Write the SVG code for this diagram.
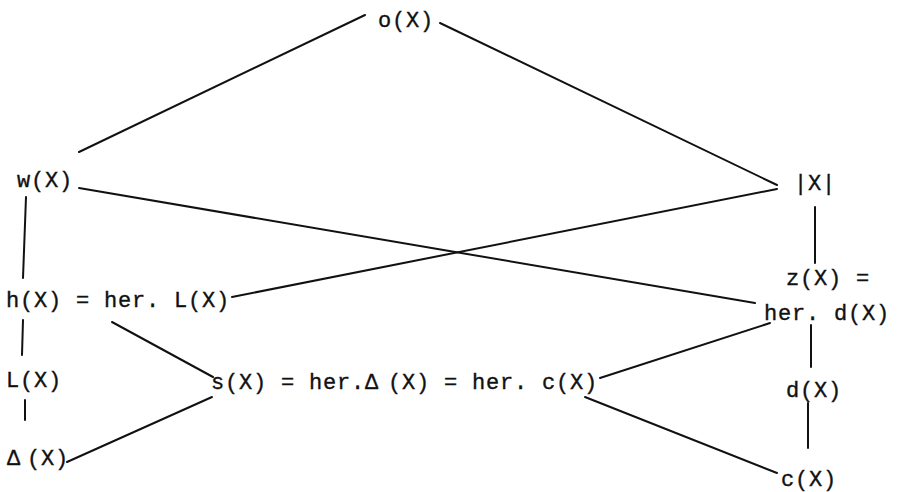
<svg xmlns="http://www.w3.org/2000/svg" width="900" height="492" viewBox="0 0 900 492">
<style>
text{font-family:"Liberation Mono","Courier New",monospace;font-size:22px;letter-spacing:0.8px;fill:#111;stroke:#111;stroke-width:0.35}
.e line{stroke:#111;stroke-width:2;stroke-linecap:round}
</style>
<rect width="900" height="492" fill="#fff"/>
<g id="edges" class="e">
<line x1="365" y1="15" x2="79" y2="152"/>
<line x1="440" y1="23" x2="777" y2="185"/>
<line x1="79" y1="188" x2="755" y2="303"/>
<line x1="777" y1="189" x2="232" y2="297"/>
<line x1="26" y1="197" x2="23" y2="278"/>
<line x1="23" y1="320" x2="22" y2="355"/>
<line x1="25" y1="400" x2="25" y2="420"/>
<line x1="112" y1="322" x2="213" y2="377"/>
<line x1="67" y1="462" x2="212" y2="397"/>
<line x1="600" y1="378" x2="770" y2="323"/>
<line x1="585" y1="397" x2="777" y2="473"/>
<line x1="815" y1="207" x2="815" y2="263"/>
<line x1="811" y1="325" x2="811" y2="367"/>
<line x1="808" y1="403" x2="808" y2="448"/>
</g>
<g id="o"><text x="378" y="27">o(X)</text></g>
<g id="w"><text x="17" y="187">w(X)</text></g>
<g id="abs"><text x="794" y="190">|X|</text></g>
<g id="h"><text x="6" y="307">h(X) = her. L(X)</text></g>
<g id="z"><text x="786" y="285">z(X) =</text><text x="764" y="320">her. d(X)</text></g>
<g id="L"><text x="6" y="387">L(X)</text></g>
<g id="s"><text x="211" y="389">s(X) = her.Δ<tspan dx="9">(X) = her. c(X)</tspan></text></g>
<g id="d"><text x="786" y="397">d(X)</text></g>
<g id="delta"><text x="7" y="465">Δ<tspan dx="6">(X)</tspan></text></g>
<g id="c"><text x="781" y="486">c(X)</text></g>
</svg>
